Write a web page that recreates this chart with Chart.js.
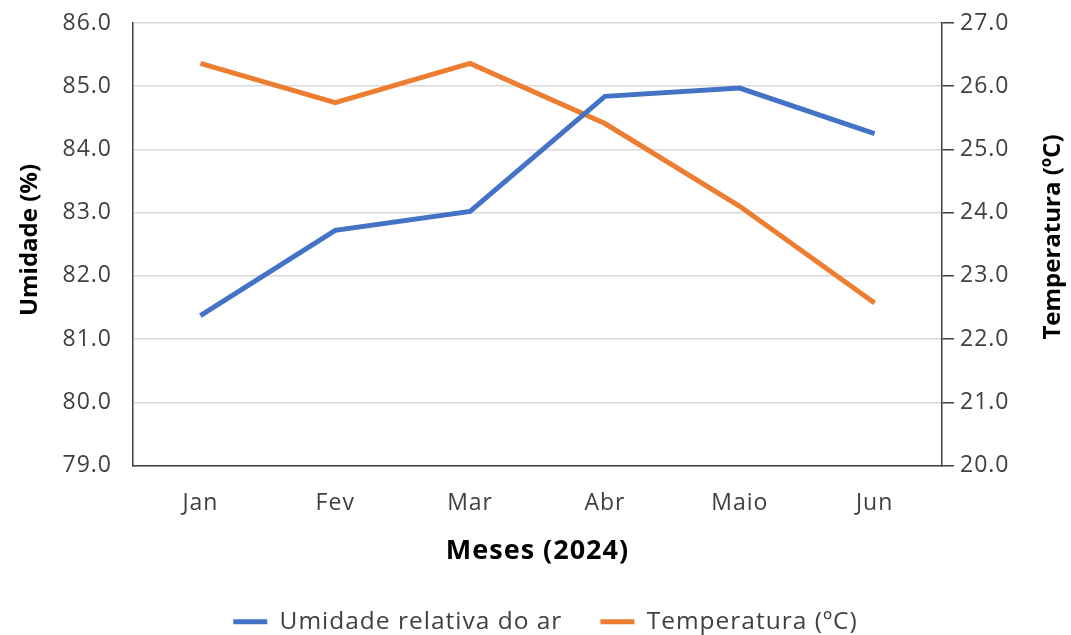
<!DOCTYPE html>
<html>
<head>
<meta charset="utf-8">
<script src="https://cdn.jsdelivr.net/npm/chart.js@4.4.1/dist/chart.umd.min.js"></script>
<style>
  html, body { margin: 0; padding: 0; background: #fff; }
  #wrap { width: 1071px; height: 635px; }
</style>
</head>
<body>
<div id="wrap"><canvas id="chart" width="1071" height="635"></canvas></div>
<script>
// dados
const meses = ['Jan', 'Fev', 'Mar', 'Abr', 'Maio', 'Jun'];
const umidade = [81.37, 82.72, 83.02, 84.84, 84.97, 84.25];
const temperatura = [26.36, 25.74, 26.36, 25.41, 24.10, 22.57];

const azul = '#4472C4';
const laranja = '#ED7D31';
const cinza = '#404040';
const fonte = "'Open Sans', sans-serif";

// o texto do original e um pouco mais espacado
const espacamento = {
  id: 'espacamento',
  beforeUpdate(chart) { chart.ctx.letterSpacing = '1px'; },
  beforeDraw(chart) { chart.ctx.letterSpacing = '1px'; },
  // a legenda do original fica um pouco a direita do centro
  afterLayout(chart) {
    if (chart.legend) { chart.legend.left += 10; chart.legend.right += 10; }
  }
};

// titulos verticais, os dois lidos de baixo para cima
const titulosY = {
  id: 'titulosY',
  afterDraw(chart) {
    const ctx = chart.ctx;
    const desenha = (txt, x, y) => {
      ctx.save();
      ctx.letterSpacing = '0px';
      ctx.translate(x, y);
      ctx.rotate(-Math.PI / 2);
      ctx.font = "bold 24px " + fonte;
      ctx.fillStyle = '#000';
      ctx.textAlign = 'center';
      ctx.textBaseline = 'middle';
      ctx.fillText(txt, 0, 0);
      ctx.restore();
    };
    desenha('Umidade (%)', 30, 240);
    desenha('Temperatura (ºC)', 1053, 237);
  }
};

new Chart('chart', {
  type: 'line',
  data: {
    labels: meses,
    datasets: [
      {
        label: 'Umidade relativa do ar',
        data: umidade,
        borderColor: azul,
        backgroundColor: azul,
        borderWidth: 5,
        pointRadius: 0,
        tension: 0,
        yAxisID: 'y'
      },
      {
        label: 'Temperatura (ºC)',
        data: temperatura,
        borderColor: laranja,
        backgroundColor: laranja,
        borderWidth: 5,
        pointRadius: 0,
        tension: 0,
        yAxisID: 'y1'
      }
    ]
  },
  options: {
    responsive: false,
    animation: false,
    layout: { padding: { top: 23, left: 0, right: 0, bottom: -9 } },
    plugins: {
      tooltip: { enabled: false },
      legend: {
        position: 'bottom',
        labels: {
          boxWidth: 34,
          boxHeight: 5,
          padding: 38,
          color: cinza,
          font: { family: fonte, size: 24.5 },
          generateLabels(chart) {
            return Chart.defaults.plugins.legend.labels.generateLabels(chart).map(l => {
              l.lineWidth = 0;
              return l;
            });
          }
        }
      }
    },
    scales: {
      x: {
        offset: true,
        grid: { display: false, drawTicks: false },
        border: { color: cinza, width: 1.5 },
        ticks: { color: cinza, padding: 24, font: { family: fonte, size: 23 } },
        title: {
          display: true,
          text: 'Meses (2024)',
          color: '#000',
          font: { family: fonte, size: 27, weight: 'bold' },
          padding: { top: 22 }
        },
        afterFit(scale) { scale.height = 106; }
      },
      y: {
        position: 'left',
        min: 79,
        max: 86,
        ticks: {
          stepSize: 1,
          color: cinza,
          padding: 6,
          font: { family: fonte, size: 23 },
          callback: v => v.toFixed(1)
        },
        grid: { color: '#d9d9d9', lineWidth: 1.5, tickLength: 15, tickColor: 'rgba(0,0,0,0)' },
        border: { color: cinza, width: 1.5 },
        afterFit(scale) { scale.width = 133; }
      },
      y1: {
        position: 'right',
        min: 20,
        max: 27,
        ticks: {
          stepSize: 1,
          color: cinza,
          padding: 6,
          font: { family: fonte, size: 23 },
          callback: v => v.toFixed(1)
        },
        grid: { drawOnChartArea: false, color: cinza, tickLength: 12, lineWidth: 1.5 },
        border: { color: cinza, width: 1.5 },
        afterFit(scale) { scale.width = 129; }
      }
    }
  },
  plugins: [espacamento, titulosY]
});
</script>
</body>
</html>
